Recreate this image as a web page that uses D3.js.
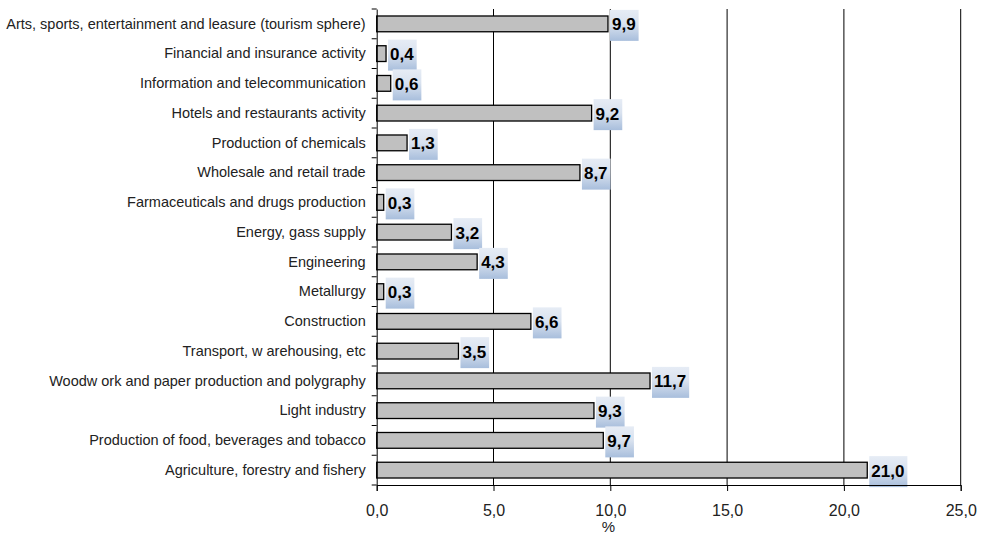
<!DOCTYPE html>
<html><head><meta charset="utf-8">
<script src="https://cdn.jsdelivr.net/npm/d3@7"></script>
<style>html,body{margin:0;padding:0;background:#fff}</style>
</head><body>
<svg id="c" width="983" height="534"></svg>
<script>
const categories = [
  "Arts, sports, entertainment and leasure (tourism sphere)",
  "Financial and insurance activity",
  "Information and telecommunication",
  "Hotels and restaurants activity",
  "Production of chemicals",
  "Wholesale and retail trade",
  "Farmaceuticals and drugs production",
  "Energy, gass supply",
  "Engineering",
  "Metallurgy",
  "Construction",
  "Transport, w arehousing, etc",
  "Woodw ork and paper production and polygraphy",
  "Light industry",
  "Production of food, beverages and tobacco",
  "Agriculture, forestry and fishery"
];
const values = [9.9, 0.4, 0.6, 9.2, 1.3, 8.7, 0.3, 3.2, 4.3, 0.3, 6.6, 3.5, 11.7, 9.3, 9.7, 21.0];
const xTicks = [0, 5, 10, 15, 20, 25];
const xTitle = "%";

(function(){
const svg = d3.select("#c");
const L = 376.7, R = 960.7, T = 9, B = 485;
const fmt = v => d3.format(".1f")(v).replace(".", ",");
const FF = "Liberation Sans, Arial, sans-serif";

const x = d3.scaleLinear().domain([0, 25]).range([L, R]);
const y = d3.scaleBand().domain(categories).range([T, B]).paddingInner(0.47).paddingOuter(0.235);

const defs = svg.append("defs");
const g = defs.append("linearGradient").attr("id","lbl").attr("x1",0).attr("y1",0).attr("x2",0).attr("y2",1);
g.append("stop").attr("offset","0%").attr("stop-color","#e6ecf5");
g.append("stop").attr("offset","45%").attr("stop-color","#d9e2ef");
g.append("stop").attr("offset","100%").attr("stop-color","#a8bedc");

// gridlines
svg.append("g").selectAll("line").data(xTicks.filter(d => d > 0)).join("line")
  .attr("x1", d => x(d)).attr("x2", d => x(d))
  .attr("y1", T).attr("y2", B)
  .attr("stroke", "#000").attr("stroke-width", 1);

// bars
svg.append("g").selectAll("rect").data(values).join("rect")
  .attr("x", x(0)).attr("y", (d,i) => y(categories[i]))
  .attr("width", d => x(d) - x(0)).attr("height", y.bandwidth())
  .attr("fill", "#c0c0c0").attr("stroke", "#000").attr("stroke-width", 1.3);

// value labels
const lab = svg.append("g").selectAll("g").data(values).join("g")
  .attr("transform", (d,i) => `translate(${x(d) + 2},${y(categories[i]) + y.bandwidth()/2})`);
lab.each(function(d){
  const s = fmt(d);
  const sel = d3.select(this);
  const rect = sel.append("rect").attr("x", 0).attr("y", -14).attr("height", 31).attr("fill", "url(#lbl)");
  const t = sel.append("text").attr("x", 2).attr("y", 6.5)
    .attr("font-family", FF).attr("font-size", 17).attr("font-weight", "bold")
    .attr("fill", "#000").text(s);
  const w = t.node().getComputedTextLength();
  rect.attr("width", w + 5);
});

// x axis
const xa = svg.append("g").attr("transform", `translate(0,${B})`)
  .call(d3.axisBottom(x).tickValues(xTicks).tickFormat(fmt).tickSize(6).tickPadding(14));
xa.select(".domain").attr("stroke","#000").attr("stroke-width",1);
xa.selectAll(".tick line").attr("stroke","#000");
xa.selectAll("text").attr("font-family",FF).attr("font-size",16).attr("fill","#222");

svg.append("text").attr("x", x(10) - 2).attr("y", 532).attr("text-anchor","middle")
  .attr("font-family",FF).attr("font-size",15).attr("fill","#222").text(xTitle);

// y axis
const ya = svg.append("g").attr("transform", `translate(${L},0)`)
  .call(d3.axisLeft(y).tickSize(0).tickPadding(11));
ya.select(".domain").attr("stroke","#000").attr("stroke-width",1);
ya.selectAll("text").attr("font-family",FF).attr("font-size",14.5).attr("fill","#222");
// category boundary ticks
const bounds = d3.range(categories.length + 1).map(i => T + i * (B - T) / categories.length);
svg.append("g").selectAll("line").data(bounds).join("line")
  .attr("x1", L - 5).attr("x2", L).attr("y1", d => d).attr("y2", d => d)
  .attr("stroke", "#000").attr("stroke-width", 1);
})();
</script>
</body></html>
